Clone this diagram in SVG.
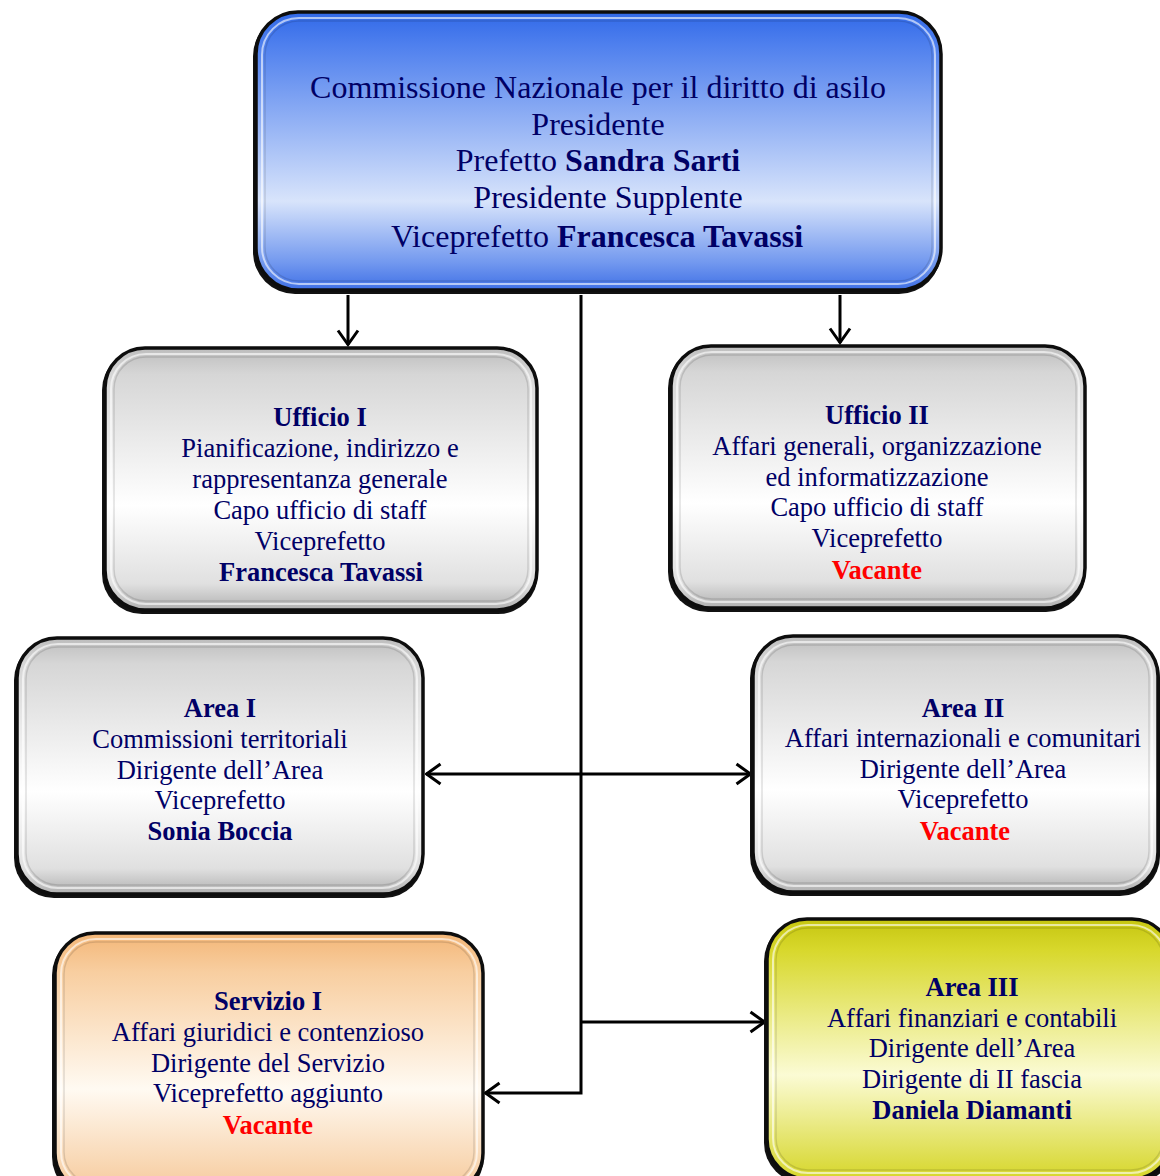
<svg xmlns="http://www.w3.org/2000/svg" width="1160" height="1176" viewBox="0 0 1160 1176">
<defs>
<linearGradient id="gBlue" x1="0" y1="0" x2="0" y2="1">
<stop offset="0" stop-color="#3169e8"/><stop offset="0.12" stop-color="#4f80ee"/><stop offset="0.68" stop-color="#d8e4fb"/><stop offset="0.9" stop-color="#7399ef"/><stop offset="1" stop-color="#3f70e6"/>
</linearGradient>
<linearGradient id="gGrey" x1="0" y1="0" x2="0" y2="1">
<stop offset="0" stop-color="#bdbdbd"/><stop offset="0.1" stop-color="#d6d6d6"/><stop offset="0.6" stop-color="#ffffff"/><stop offset="0.9" stop-color="#e0e0e0"/><stop offset="1" stop-color="#b0b0b0"/>
</linearGradient>
<linearGradient id="gOrange" x1="0" y1="0" x2="0" y2="1">
<stop offset="0" stop-color="#f3b677"/><stop offset="0.15" stop-color="#f8cea0"/><stop offset="0.6" stop-color="#fffaf2"/><stop offset="1" stop-color="#f6c99a"/>
</linearGradient>
<linearGradient id="gYellow" x1="0" y1="0" x2="0" y2="1">
<stop offset="0" stop-color="#c6c610"/><stop offset="0.12" stop-color="#d8d82c"/><stop offset="0.6" stop-color="#fbfbd4"/><stop offset="1" stop-color="#d6d62a"/>
</linearGradient>
<marker id="arr" viewBox="0 0 18 24" refX="16.5" refY="12" markerWidth="18" markerHeight="24" markerUnits="userSpaceOnUse" orient="auto-start-reverse">
<path d="M2,2 L16,12 L2,22" fill="none" stroke="#000" stroke-width="3"/>
</marker>
</defs>
<style>
.shadow{fill:#111;}
.frame{stroke:#0d0d0d;stroke-width:3.5;}
.bevel{fill:none;stroke:#ffffff;stroke-opacity:0.6;stroke-width:2;}
.bevel2{fill:none;stroke:#000;stroke-opacity:0.12;stroke-width:1.5;}
text{font-family:"Liberation Serif","Times New Roman",serif;fill:#000066;text-anchor:middle;}
.t1{font-size:32px;}
.t2{font-size:26.5px;}
.b{font-weight:bold;}
.red{fill:#ff0000;font-weight:bold;}
.conn{stroke:#000;stroke-width:3;fill:none;}
</style>

<g id="connectors">
<line class="conn" x1="348" y1="295" x2="348" y2="345" marker-end="url(#arr)"/>
<line class="conn" x1="840" y1="295" x2="840" y2="343" marker-end="url(#arr)"/>
<polyline class="conn" points="581,295 581,1093 485,1093" marker-end="url(#arr)"/>
<line class="conn" x1="426" y1="774" x2="751" y2="774" marker-start="url(#arr)" marker-end="url(#arr)"/>
<line class="conn" x1="581" y1="1022" x2="765" y2="1022" marker-end="url(#arr)"/>
</g>

<g id="commissione">
<rect class="shadow" x="253" y="14" width="688" height="280" rx="42"/>
<rect class="frame" x="256" y="12" width="685" height="278" rx="42" fill="url(#gBlue)"/>
<rect class="bevel" x="262" y="18" width="673" height="266" rx="37"/>
<rect class="bevel2" x="265" y="21" width="667" height="260" rx="34"/>
<text class="t1" x="598" y="98">Commissione Nazionale per il diritto di asilo</text>
<text class="t1" x="598" y="135">Presidente</text>
<text class="t1" x="598" y="171">Prefetto <tspan class="b">Sandra Sarti</tspan></text>
<text class="t1" x="608" y="208">Presidente Supplente</text>
<text class="t1" x="597" y="247">Viceprefetto <tspan class="b">Francesca Tavassi</tspan></text>
</g>

<g id="ufficio1">
<rect class="shadow" x="102" y="350" width="436" height="264" rx="40"/>
<rect class="frame" x="105" y="348" width="432" height="262" rx="40" fill="url(#gGrey)"/>
<rect class="bevel" x="111" y="354" width="420" height="250" rx="35"/>
<rect class="bevel2" x="114" y="357" width="414" height="244" rx="32"/>
<text class="t2 b" x="320" y="426">Ufficio I</text>
<text class="t2" x="320" y="457">Pianificazione, indirizzo e</text>
<text class="t2" x="320" y="488">rappresentanza generale</text>
<text class="t2" x="320" y="519">Capo ufficio di staff</text>
<text class="t2" x="320" y="550">Viceprefetto</text>
<text class="t2 b" x="321" y="581">Francesca Tavassi</text>
</g>

<g id="ufficio2">
<rect class="shadow" x="668" y="348" width="418" height="264" rx="40"/>
<rect class="frame" x="671" y="346" width="414" height="262" rx="40" fill="url(#gGrey)"/>
<rect class="bevel" x="677" y="352" width="402" height="250" rx="35"/>
<rect class="bevel2" x="680" y="355" width="396" height="244" rx="32"/>
<text class="t2 b" x="877" y="424">Ufficio II</text>
<text class="t2" x="877" y="455">Affari generali, organizzazione</text>
<text class="t2" x="877" y="486">ed informatizzazione</text>
<text class="t2" x="877" y="516">Capo ufficio di staff</text>
<text class="t2" x="877" y="547">Viceprefetto</text>
<text class="red t2" x="877" y="579">Vacante</text>
</g>

<g id="area1">
<rect class="shadow" x="14" y="640" width="410" height="258" rx="40"/>
<rect class="frame" x="17" y="638" width="406" height="256" rx="40" fill="url(#gGrey)"/>
<rect class="bevel" x="23" y="644" width="394" height="244" rx="35"/>
<rect class="bevel2" x="26" y="647" width="388" height="238" rx="32"/>
<text class="t2 b" x="220" y="717">Area I</text>
<text class="t2" x="220" y="748">Commissioni territoriali</text>
<text class="t2" x="220" y="779">Dirigente dell’Area</text>
<text class="t2" x="220" y="809">Viceprefetto</text>
<text class="t2 b" x="220" y="840">Sonia Boccia</text>
</g>

<g id="area2">
<rect class="shadow" x="750" y="638" width="410" height="258" rx="40"/>
<rect class="frame" x="753" y="636" width="405" height="256" rx="40" fill="url(#gGrey)"/>
<rect class="bevel" x="759" y="642" width="393" height="244" rx="35"/>
<rect class="bevel2" x="762" y="645" width="387" height="238" rx="32"/>
<text class="t2 b" x="963" y="717">Area II</text>
<text class="t2" x="963" y="747">Affari internazionali e comunitari</text>
<text class="t2" x="963" y="778">Dirigente dell’Area</text>
<text class="t2" x="963" y="808">Viceprefetto</text>
<text class="red t2" x="965" y="840">Vacante</text>
</g>

<g id="servizio1">
<rect class="shadow" x="52" y="935" width="432" height="262" rx="40"/>
<rect class="frame" x="55" y="933" width="428" height="260" rx="40" fill="url(#gOrange)"/>
<rect class="bevel" x="61" y="939" width="416" height="248" rx="35"/>
<rect class="bevel2" x="64" y="942" width="410" height="242" rx="32"/>
<text class="t2 b" x="268" y="1010">Servizio I</text>
<text class="t2" x="268" y="1041">Affari giuridici e contenzioso</text>
<text class="t2" x="268" y="1072">Dirigente del Servizio</text>
<text class="t2" x="268" y="1102">Viceprefetto aggiunto</text>
<text class="red t2" x="268" y="1134">Vacante</text>
</g>

<g id="area3">
<rect class="shadow" x="764" y="921" width="410" height="262" rx="40"/>
<rect class="frame" x="767" y="919" width="405" height="260" rx="40" fill="url(#gYellow)"/>
<rect class="bevel" x="773" y="925" width="393" height="248" rx="35"/>
<rect class="bevel2" x="776" y="928" width="387" height="242" rx="32"/>
<text class="t2 b" x="972" y="996">Area III</text>
<text class="t2" x="972" y="1027">Affari finanziari e contabili</text>
<text class="t2" x="972" y="1057">Dirigente dell’Area</text>
<text class="t2" x="972" y="1088">Dirigente di II fascia</text>
<text class="t2 b" x="972" y="1119">Daniela Diamanti</text>
</g>
</svg>
